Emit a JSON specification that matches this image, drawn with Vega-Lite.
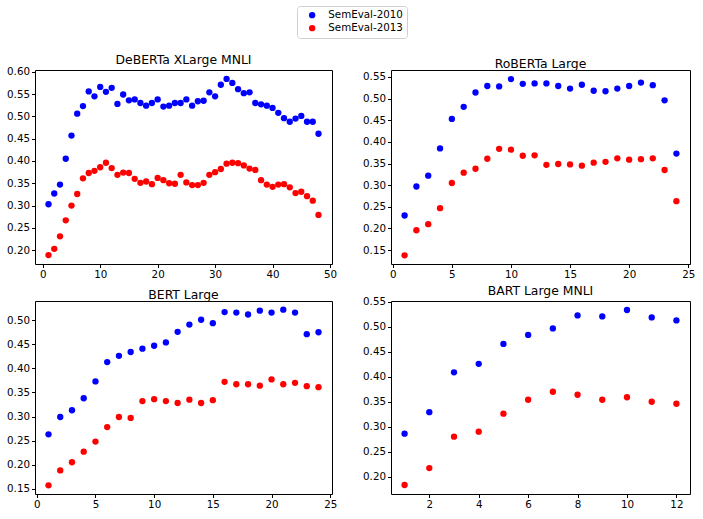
{
  "$schema": "https://vega.github.io/schema/vega-lite/v6.json",
  "background": "white",
  "padding": {"left": 6, "top": 5, "right": 8, "bottom": 5},
  "config": {
    "font": "DejaVu Sans",
    "view": {"stroke": "black", "strokeWidth": 1},
    "axis": {
      "grid": false,
      "domain": false,
      "tickColor": "black",
      "tickSize": 3.5,
      "labelColor": "black",
      "labelFontSize": 10.3,
      "labelPadding": 2,
      "title": null
    },
    "title": {"fontSize": 12.4, "fontWeight": "normal", "color": "black", "offset": 1, "frame": "group"},
    "legend": {
      "labelFontSize": 10.3,
      "labelColor": "black",
      "symbolType": "circle",
      "symbolSize": 40,
      "symbolOffset": 6,
      "strokeColor": "#d0d0d0",
      "cornerRadius": 3,
      "padding": 4,
      "rowPadding": 2,
      "labelOffset": 11,
      "title": null
    }
  },
  "data": {
    "values": [
      {"model": "DeBERTa", "layer": 1, "set": "SemEval-2010", "score": 0.303},
      {"model": "DeBERTa", "layer": 2, "set": "SemEval-2010", "score": 0.327},
      {"model": "DeBERTa", "layer": 3, "set": "SemEval-2010", "score": 0.347},
      {"model": "DeBERTa", "layer": 4, "set": "SemEval-2010", "score": 0.405},
      {"model": "DeBERTa", "layer": 5, "set": "SemEval-2010", "score": 0.457},
      {"model": "DeBERTa", "layer": 6, "set": "SemEval-2010", "score": 0.506},
      {"model": "DeBERTa", "layer": 7, "set": "SemEval-2010", "score": 0.523},
      {"model": "DeBERTa", "layer": 8, "set": "SemEval-2010", "score": 0.556},
      {"model": "DeBERTa", "layer": 9, "set": "SemEval-2010", "score": 0.545},
      {"model": "DeBERTa", "layer": 10, "set": "SemEval-2010", "score": 0.566},
      {"model": "DeBERTa", "layer": 11, "set": "SemEval-2010", "score": 0.555},
      {"model": "DeBERTa", "layer": 12, "set": "SemEval-2010", "score": 0.564},
      {"model": "DeBERTa", "layer": 13, "set": "SemEval-2010", "score": 0.528},
      {"model": "DeBERTa", "layer": 14, "set": "SemEval-2010", "score": 0.549},
      {"model": "DeBERTa", "layer": 15, "set": "SemEval-2010", "score": 0.536},
      {"model": "DeBERTa", "layer": 16, "set": "SemEval-2010", "score": 0.538},
      {"model": "DeBERTa", "layer": 17, "set": "SemEval-2010", "score": 0.530},
      {"model": "DeBERTa", "layer": 18, "set": "SemEval-2010", "score": 0.524},
      {"model": "DeBERTa", "layer": 19, "set": "SemEval-2010", "score": 0.530},
      {"model": "DeBERTa", "layer": 20, "set": "SemEval-2010", "score": 0.538},
      {"model": "DeBERTa", "layer": 21, "set": "SemEval-2010", "score": 0.522},
      {"model": "DeBERTa", "layer": 22, "set": "SemEval-2010", "score": 0.524},
      {"model": "DeBERTa", "layer": 23, "set": "SemEval-2010", "score": 0.530},
      {"model": "DeBERTa", "layer": 24, "set": "SemEval-2010", "score": 0.530},
      {"model": "DeBERTa", "layer": 25, "set": "SemEval-2010", "score": 0.538},
      {"model": "DeBERTa", "layer": 26, "set": "SemEval-2010", "score": 0.524},
      {"model": "DeBERTa", "layer": 27, "set": "SemEval-2010", "score": 0.534},
      {"model": "DeBERTa", "layer": 28, "set": "SemEval-2010", "score": 0.535},
      {"model": "DeBERTa", "layer": 29, "set": "SemEval-2010", "score": 0.554},
      {"model": "DeBERTa", "layer": 30, "set": "SemEval-2010", "score": 0.545},
      {"model": "DeBERTa", "layer": 31, "set": "SemEval-2010", "score": 0.571},
      {"model": "DeBERTa", "layer": 32, "set": "SemEval-2010", "score": 0.584},
      {"model": "DeBERTa", "layer": 33, "set": "SemEval-2010", "score": 0.575},
      {"model": "DeBERTa", "layer": 34, "set": "SemEval-2010", "score": 0.561},
      {"model": "DeBERTa", "layer": 35, "set": "SemEval-2010", "score": 0.552},
      {"model": "DeBERTa", "layer": 36, "set": "SemEval-2010", "score": 0.554},
      {"model": "DeBERTa", "layer": 37, "set": "SemEval-2010", "score": 0.530},
      {"model": "DeBERTa", "layer": 38, "set": "SemEval-2010", "score": 0.527},
      {"model": "DeBERTa", "layer": 39, "set": "SemEval-2010", "score": 0.524},
      {"model": "DeBERTa", "layer": 40, "set": "SemEval-2010", "score": 0.519},
      {"model": "DeBERTa", "layer": 41, "set": "SemEval-2010", "score": 0.508},
      {"model": "DeBERTa", "layer": 42, "set": "SemEval-2010", "score": 0.496},
      {"model": "DeBERTa", "layer": 43, "set": "SemEval-2010", "score": 0.488},
      {"model": "DeBERTa", "layer": 44, "set": "SemEval-2010", "score": 0.495},
      {"model": "DeBERTa", "layer": 45, "set": "SemEval-2010", "score": 0.501},
      {"model": "DeBERTa", "layer": 46, "set": "SemEval-2010", "score": 0.488},
      {"model": "DeBERTa", "layer": 47, "set": "SemEval-2010", "score": 0.488},
      {"model": "DeBERTa", "layer": 48, "set": "SemEval-2010", "score": 0.461},
      {"model": "DeBERTa", "layer": 1, "set": "SemEval-2013", "score": 0.189},
      {"model": "DeBERTa", "layer": 2, "set": "SemEval-2013", "score": 0.203},
      {"model": "DeBERTa", "layer": 3, "set": "SemEval-2013", "score": 0.231},
      {"model": "DeBERTa", "layer": 4, "set": "SemEval-2013", "score": 0.267},
      {"model": "DeBERTa", "layer": 5, "set": "SemEval-2013", "score": 0.300},
      {"model": "DeBERTa", "layer": 6, "set": "SemEval-2013", "score": 0.326},
      {"model": "DeBERTa", "layer": 7, "set": "SemEval-2013", "score": 0.361},
      {"model": "DeBERTa", "layer": 8, "set": "SemEval-2013", "score": 0.373},
      {"model": "DeBERTa", "layer": 9, "set": "SemEval-2013", "score": 0.378},
      {"model": "DeBERTa", "layer": 10, "set": "SemEval-2013", "score": 0.386},
      {"model": "DeBERTa", "layer": 11, "set": "SemEval-2013", "score": 0.396},
      {"model": "DeBERTa", "layer": 12, "set": "SemEval-2013", "score": 0.384},
      {"model": "DeBERTa", "layer": 13, "set": "SemEval-2013", "score": 0.369},
      {"model": "DeBERTa", "layer": 14, "set": "SemEval-2013", "score": 0.374},
      {"model": "DeBERTa", "layer": 15, "set": "SemEval-2013", "score": 0.373},
      {"model": "DeBERTa", "layer": 16, "set": "SemEval-2013", "score": 0.360},
      {"model": "DeBERTa", "layer": 17, "set": "SemEval-2013", "score": 0.351},
      {"model": "DeBERTa", "layer": 18, "set": "SemEval-2013", "score": 0.354},
      {"model": "DeBERTa", "layer": 19, "set": "SemEval-2013", "score": 0.348},
      {"model": "DeBERTa", "layer": 20, "set": "SemEval-2013", "score": 0.362},
      {"model": "DeBERTa", "layer": 21, "set": "SemEval-2013", "score": 0.357},
      {"model": "DeBERTa", "layer": 22, "set": "SemEval-2013", "score": 0.350},
      {"model": "DeBERTa", "layer": 23, "set": "SemEval-2013", "score": 0.349},
      {"model": "DeBERTa", "layer": 24, "set": "SemEval-2013", "score": 0.369},
      {"model": "DeBERTa", "layer": 25, "set": "SemEval-2013", "score": 0.352},
      {"model": "DeBERTa", "layer": 26, "set": "SemEval-2013", "score": 0.346},
      {"model": "DeBERTa", "layer": 27, "set": "SemEval-2013", "score": 0.346},
      {"model": "DeBERTa", "layer": 28, "set": "SemEval-2013", "score": 0.351},
      {"model": "DeBERTa", "layer": 29, "set": "SemEval-2013", "score": 0.369},
      {"model": "DeBERTa", "layer": 30, "set": "SemEval-2013", "score": 0.375},
      {"model": "DeBERTa", "layer": 31, "set": "SemEval-2013", "score": 0.382},
      {"model": "DeBERTa", "layer": 32, "set": "SemEval-2013", "score": 0.394},
      {"model": "DeBERTa", "layer": 33, "set": "SemEval-2013", "score": 0.396},
      {"model": "DeBERTa", "layer": 34, "set": "SemEval-2013", "score": 0.395},
      {"model": "DeBERTa", "layer": 35, "set": "SemEval-2013", "score": 0.390},
      {"model": "DeBERTa", "layer": 36, "set": "SemEval-2013", "score": 0.383},
      {"model": "DeBERTa", "layer": 37, "set": "SemEval-2013", "score": 0.380},
      {"model": "DeBERTa", "layer": 38, "set": "SemEval-2013", "score": 0.357},
      {"model": "DeBERTa", "layer": 39, "set": "SemEval-2013", "score": 0.347},
      {"model": "DeBERTa", "layer": 40, "set": "SemEval-2013", "score": 0.342},
      {"model": "DeBERTa", "layer": 41, "set": "SemEval-2013", "score": 0.347},
      {"model": "DeBERTa", "layer": 42, "set": "SemEval-2013", "score": 0.348},
      {"model": "DeBERTa", "layer": 43, "set": "SemEval-2013", "score": 0.341},
      {"model": "DeBERTa", "layer": 44, "set": "SemEval-2013", "score": 0.328},
      {"model": "DeBERTa", "layer": 45, "set": "SemEval-2013", "score": 0.331},
      {"model": "DeBERTa", "layer": 46, "set": "SemEval-2013", "score": 0.321},
      {"model": "DeBERTa", "layer": 47, "set": "SemEval-2013", "score": 0.311},
      {"model": "DeBERTa", "layer": 48, "set": "SemEval-2013", "score": 0.279},
      {"model": "RoBERTa", "layer": 1, "set": "SemEval-2010", "score": 0.230},
      {"model": "RoBERTa", "layer": 2, "set": "SemEval-2010", "score": 0.297},
      {"model": "RoBERTa", "layer": 3, "set": "SemEval-2010", "score": 0.322},
      {"model": "RoBERTa", "layer": 4, "set": "SemEval-2010", "score": 0.385},
      {"model": "RoBERTa", "layer": 5, "set": "SemEval-2010", "score": 0.453},
      {"model": "RoBERTa", "layer": 6, "set": "SemEval-2010", "score": 0.481},
      {"model": "RoBERTa", "layer": 7, "set": "SemEval-2010", "score": 0.514},
      {"model": "RoBERTa", "layer": 8, "set": "SemEval-2010", "score": 0.529},
      {"model": "RoBERTa", "layer": 9, "set": "SemEval-2010", "score": 0.528},
      {"model": "RoBERTa", "layer": 10, "set": "SemEval-2010", "score": 0.545},
      {"model": "RoBERTa", "layer": 11, "set": "SemEval-2010", "score": 0.534},
      {"model": "RoBERTa", "layer": 12, "set": "SemEval-2010", "score": 0.535},
      {"model": "RoBERTa", "layer": 13, "set": "SemEval-2010", "score": 0.535},
      {"model": "RoBERTa", "layer": 14, "set": "SemEval-2010", "score": 0.529},
      {"model": "RoBERTa", "layer": 15, "set": "SemEval-2010", "score": 0.523},
      {"model": "RoBERTa", "layer": 16, "set": "SemEval-2010", "score": 0.532},
      {"model": "RoBERTa", "layer": 17, "set": "SemEval-2010", "score": 0.518},
      {"model": "RoBERTa", "layer": 18, "set": "SemEval-2010", "score": 0.517},
      {"model": "RoBERTa", "layer": 19, "set": "SemEval-2010", "score": 0.523},
      {"model": "RoBERTa", "layer": 20, "set": "SemEval-2010", "score": 0.529},
      {"model": "RoBERTa", "layer": 21, "set": "SemEval-2010", "score": 0.537},
      {"model": "RoBERTa", "layer": 22, "set": "SemEval-2010", "score": 0.531},
      {"model": "RoBERTa", "layer": 23, "set": "SemEval-2010", "score": 0.496},
      {"model": "RoBERTa", "layer": 24, "set": "SemEval-2010", "score": 0.373},
      {"model": "RoBERTa", "layer": 1, "set": "SemEval-2013", "score": 0.138},
      {"model": "RoBERTa", "layer": 2, "set": "SemEval-2013", "score": 0.196},
      {"model": "RoBERTa", "layer": 3, "set": "SemEval-2013", "score": 0.210},
      {"model": "RoBERTa", "layer": 4, "set": "SemEval-2013", "score": 0.247},
      {"model": "RoBERTa", "layer": 5, "set": "SemEval-2013", "score": 0.305},
      {"model": "RoBERTa", "layer": 6, "set": "SemEval-2013", "score": 0.329},
      {"model": "RoBERTa", "layer": 7, "set": "SemEval-2013", "score": 0.338},
      {"model": "RoBERTa", "layer": 8, "set": "SemEval-2013", "score": 0.361},
      {"model": "RoBERTa", "layer": 9, "set": "SemEval-2013", "score": 0.384},
      {"model": "RoBERTa", "layer": 10, "set": "SemEval-2013", "score": 0.382},
      {"model": "RoBERTa", "layer": 11, "set": "SemEval-2013", "score": 0.368},
      {"model": "RoBERTa", "layer": 12, "set": "SemEval-2013", "score": 0.369},
      {"model": "RoBERTa", "layer": 13, "set": "SemEval-2013", "score": 0.347},
      {"model": "RoBERTa", "layer": 14, "set": "SemEval-2013", "score": 0.349},
      {"model": "RoBERTa", "layer": 15, "set": "SemEval-2013", "score": 0.348},
      {"model": "RoBERTa", "layer": 16, "set": "SemEval-2013", "score": 0.345},
      {"model": "RoBERTa", "layer": 17, "set": "SemEval-2013", "score": 0.352},
      {"model": "RoBERTa", "layer": 18, "set": "SemEval-2013", "score": 0.354},
      {"model": "RoBERTa", "layer": 19, "set": "SemEval-2013", "score": 0.362},
      {"model": "RoBERTa", "layer": 20, "set": "SemEval-2013", "score": 0.359},
      {"model": "RoBERTa", "layer": 21, "set": "SemEval-2013", "score": 0.360},
      {"model": "RoBERTa", "layer": 22, "set": "SemEval-2013", "score": 0.362},
      {"model": "RoBERTa", "layer": 23, "set": "SemEval-2013", "score": 0.335},
      {"model": "RoBERTa", "layer": 24, "set": "SemEval-2013", "score": 0.263},
      {"model": "BERT", "layer": 1, "set": "SemEval-2010", "score": 0.263},
      {"model": "BERT", "layer": 2, "set": "SemEval-2010", "score": 0.299},
      {"model": "BERT", "layer": 3, "set": "SemEval-2010", "score": 0.313},
      {"model": "BERT", "layer": 4, "set": "SemEval-2010", "score": 0.338},
      {"model": "BERT", "layer": 5, "set": "SemEval-2010", "score": 0.373},
      {"model": "BERT", "layer": 6, "set": "SemEval-2010", "score": 0.413},
      {"model": "BERT", "layer": 7, "set": "SemEval-2010", "score": 0.426},
      {"model": "BERT", "layer": 8, "set": "SemEval-2010", "score": 0.434},
      {"model": "BERT", "layer": 9, "set": "SemEval-2010", "score": 0.441},
      {"model": "BERT", "layer": 10, "set": "SemEval-2010", "score": 0.447},
      {"model": "BERT", "layer": 11, "set": "SemEval-2010", "score": 0.454},
      {"model": "BERT", "layer": 12, "set": "SemEval-2010", "score": 0.476},
      {"model": "BERT", "layer": 13, "set": "SemEval-2010", "score": 0.491},
      {"model": "BERT", "layer": 14, "set": "SemEval-2010", "score": 0.501},
      {"model": "BERT", "layer": 15, "set": "SemEval-2010", "score": 0.494},
      {"model": "BERT", "layer": 16, "set": "SemEval-2010", "score": 0.517},
      {"model": "BERT", "layer": 17, "set": "SemEval-2010", "score": 0.516},
      {"model": "BERT", "layer": 18, "set": "SemEval-2010", "score": 0.512},
      {"model": "BERT", "layer": 19, "set": "SemEval-2010", "score": 0.520},
      {"model": "BERT", "layer": 20, "set": "SemEval-2010", "score": 0.516},
      {"model": "BERT", "layer": 21, "set": "SemEval-2010", "score": 0.522},
      {"model": "BERT", "layer": 22, "set": "SemEval-2010", "score": 0.516},
      {"model": "BERT", "layer": 23, "set": "SemEval-2010", "score": 0.471},
      {"model": "BERT", "layer": 24, "set": "SemEval-2010", "score": 0.475},
      {"model": "BERT", "layer": 1, "set": "SemEval-2013", "score": 0.157},
      {"model": "BERT", "layer": 2, "set": "SemEval-2013", "score": 0.188},
      {"model": "BERT", "layer": 3, "set": "SemEval-2013", "score": 0.205},
      {"model": "BERT", "layer": 4, "set": "SemEval-2013", "score": 0.227},
      {"model": "BERT", "layer": 5, "set": "SemEval-2013", "score": 0.248},
      {"model": "BERT", "layer": 6, "set": "SemEval-2013", "score": 0.278},
      {"model": "BERT", "layer": 7, "set": "SemEval-2013", "score": 0.299},
      {"model": "BERT", "layer": 8, "set": "SemEval-2013", "score": 0.297},
      {"model": "BERT", "layer": 9, "set": "SemEval-2013", "score": 0.332},
      {"model": "BERT", "layer": 10, "set": "SemEval-2013", "score": 0.336},
      {"model": "BERT", "layer": 11, "set": "SemEval-2013", "score": 0.332},
      {"model": "BERT", "layer": 12, "set": "SemEval-2013", "score": 0.328},
      {"model": "BERT", "layer": 13, "set": "SemEval-2013", "score": 0.335},
      {"model": "BERT", "layer": 14, "set": "SemEval-2013", "score": 0.328},
      {"model": "BERT", "layer": 15, "set": "SemEval-2013", "score": 0.334},
      {"model": "BERT", "layer": 16, "set": "SemEval-2013", "score": 0.372},
      {"model": "BERT", "layer": 17, "set": "SemEval-2013", "score": 0.367},
      {"model": "BERT", "layer": 18, "set": "SemEval-2013", "score": 0.367},
      {"model": "BERT", "layer": 19, "set": "SemEval-2013", "score": 0.364},
      {"model": "BERT", "layer": 20, "set": "SemEval-2013", "score": 0.377},
      {"model": "BERT", "layer": 21, "set": "SemEval-2013", "score": 0.367},
      {"model": "BERT", "layer": 22, "set": "SemEval-2013", "score": 0.370},
      {"model": "BERT", "layer": 23, "set": "SemEval-2013", "score": 0.363},
      {"model": "BERT", "layer": 24, "set": "SemEval-2013", "score": 0.361},
      {"model": "BART", "layer": 1, "set": "SemEval-2010", "score": 0.286},
      {"model": "BART", "layer": 2, "set": "SemEval-2010", "score": 0.329},
      {"model": "BART", "layer": 3, "set": "SemEval-2010", "score": 0.409},
      {"model": "BART", "layer": 4, "set": "SemEval-2010", "score": 0.426},
      {"model": "BART", "layer": 5, "set": "SemEval-2010", "score": 0.466},
      {"model": "BART", "layer": 6, "set": "SemEval-2010", "score": 0.484},
      {"model": "BART", "layer": 7, "set": "SemEval-2010", "score": 0.497},
      {"model": "BART", "layer": 8, "set": "SemEval-2010", "score": 0.523},
      {"model": "BART", "layer": 9, "set": "SemEval-2010", "score": 0.521},
      {"model": "BART", "layer": 10, "set": "SemEval-2010", "score": 0.534},
      {"model": "BART", "layer": 11, "set": "SemEval-2010", "score": 0.519},
      {"model": "BART", "layer": 12, "set": "SemEval-2010", "score": 0.513},
      {"model": "BART", "layer": 1, "set": "SemEval-2013", "score": 0.183},
      {"model": "BART", "layer": 2, "set": "SemEval-2013", "score": 0.217},
      {"model": "BART", "layer": 3, "set": "SemEval-2013", "score": 0.280},
      {"model": "BART", "layer": 4, "set": "SemEval-2013", "score": 0.290},
      {"model": "BART", "layer": 5, "set": "SemEval-2013", "score": 0.326},
      {"model": "BART", "layer": 6, "set": "SemEval-2013", "score": 0.354},
      {"model": "BART", "layer": 7, "set": "SemEval-2013", "score": 0.370},
      {"model": "BART", "layer": 8, "set": "SemEval-2013", "score": 0.364},
      {"model": "BART", "layer": 9, "set": "SemEval-2013", "score": 0.354},
      {"model": "BART", "layer": 10, "set": "SemEval-2013", "score": 0.359},
      {"model": "BART", "layer": 11, "set": "SemEval-2013", "score": 0.350},
      {"model": "BART", "layer": 12, "set": "SemEval-2013", "score": 0.346}
    ]
  },
  "columns": 2,
  "spacing": {"row": 3, "column": 24},
  "resolve": {"scale": {"x": "independent", "y": "independent", "color": "shared"}},
  "concat": [
    {
      "title": {"text": "DeBERTa XLarge MNLI", "frame": "group", "offset": 1, "dy": 1},
      "width": 297,
      "height": 194,
      "transform": [{"filter": "datum.model == 'DeBERTa'"}],
      "mark": {"type": "point", "filled": true, "opacity": 1, "size": 40},
      "encoding": {
        "x": {"field": "layer", "type": "quantitative",
              "scale": {"domain": [-1.35, 50.35], "nice": false, "zero": false},
              "axis": {"values": [0, 10, 20, 30, 40, 50]}},
        "y": {"field": "score", "type": "quantitative",
              "scale": {"domain": [0.169, 0.604], "nice": false, "zero": false},
              "axis": {"values": [0.2, 0.25, 0.3, 0.35, 0.4, 0.45, 0.5, 0.55, 0.6], "format": ".2f"}},
        "color": {"field": "set", "type": "nominal",
                  "scale": {"domain": ["SemEval-2010", "SemEval-2013"], "range": ["#0000ff", "#ff0000"]},
                  "legend": {"orient": "none", "legendX": 262, "legendY": -64, "direction": "vertical"}}
      }
    },
    {
      "title": {"text": "RoBERTa Large", "frame": "group", "offset": 1, "dy": 1},
      "width": 299,
      "height": 194,
      "transform": [{"filter": "datum.model == 'RoBERTa'"}],
      "mark": {"type": "point", "filled": true, "opacity": 1, "size": 40},
      "encoding": {
        "x": {"field": "layer", "type": "quantitative",
              "scale": {"domain": [-0.15, 25.15], "nice": false, "zero": false},
              "axis": {"values": [0, 5, 10, 15, 20, 25]}},
        "y": {"field": "score", "type": "quantitative",
              "scale": {"domain": [0.118, 0.566], "nice": false, "zero": false},
              "axis": {"values": [0.15, 0.2, 0.25, 0.3, 0.35, 0.4, 0.45, 0.5, 0.55], "format": ".2f"}},
        "color": {"field": "set", "type": "nominal",
                  "scale": {"domain": ["SemEval-2010", "SemEval-2013"], "range": ["#0000ff", "#ff0000"]},
                  "legend": {"orient": "none", "legendX": 262, "legendY": -64, "direction": "vertical"}}
      }
    },
    {
      "title": {"text": "BERT Large", "frame": "group", "offset": 1, "dy": 1},
      "width": 297,
      "height": 193,
      "transform": [{"filter": "datum.model == 'BERT'"}],
      "mark": {"type": "point", "filled": true, "opacity": 1, "size": 40},
      "encoding": {
        "x": {"field": "layer", "type": "quantitative",
              "scale": {"domain": [-0.15, 25.15], "nice": false, "zero": false},
              "axis": {"values": [0, 5, 10, 15, 20, 25]}},
        "y": {"field": "score", "type": "quantitative",
              "scale": {"domain": [0.139, 0.540], "nice": false, "zero": false},
              "axis": {"values": [0.15, 0.2, 0.25, 0.3, 0.35, 0.4, 0.45, 0.5], "format": ".2f"}},
        "color": {"field": "set", "type": "nominal",
                  "scale": {"domain": ["SemEval-2010", "SemEval-2013"], "range": ["#0000ff", "#ff0000"]},
                  "legend": {"orient": "none", "legendX": 262, "legendY": -64, "direction": "vertical"}}
      }
    },
    {
      "title": {"text": "BART Large MNLI", "frame": "group", "offset": 1, "dy": 1},
      "width": 299,
      "height": 193,
      "transform": [{"filter": "datum.model == 'BART'"}],
      "mark": {"type": "point", "filled": true, "opacity": 1, "size": 40},
      "encoding": {
        "x": {"field": "layer", "type": "quantitative",
              "scale": {"domain": [0.45, 12.55], "nice": false, "zero": false},
              "axis": {"values": [2, 4, 6, 8, 10, 12]}},
        "y": {"field": "score", "type": "quantitative",
              "scale": {"domain": [0.165, 0.552], "nice": false, "zero": false},
              "axis": {"values": [0.2, 0.25, 0.3, 0.35, 0.4, 0.45, 0.5, 0.55], "format": ".2f"}},
        "color": {"field": "set", "type": "nominal",
                  "scale": {"domain": ["SemEval-2010", "SemEval-2013"], "range": ["#0000ff", "#ff0000"]},
                  "legend": {"orient": "none", "legendX": 262, "legendY": -64, "direction": "vertical"}}
      }
    }
  ]
}
